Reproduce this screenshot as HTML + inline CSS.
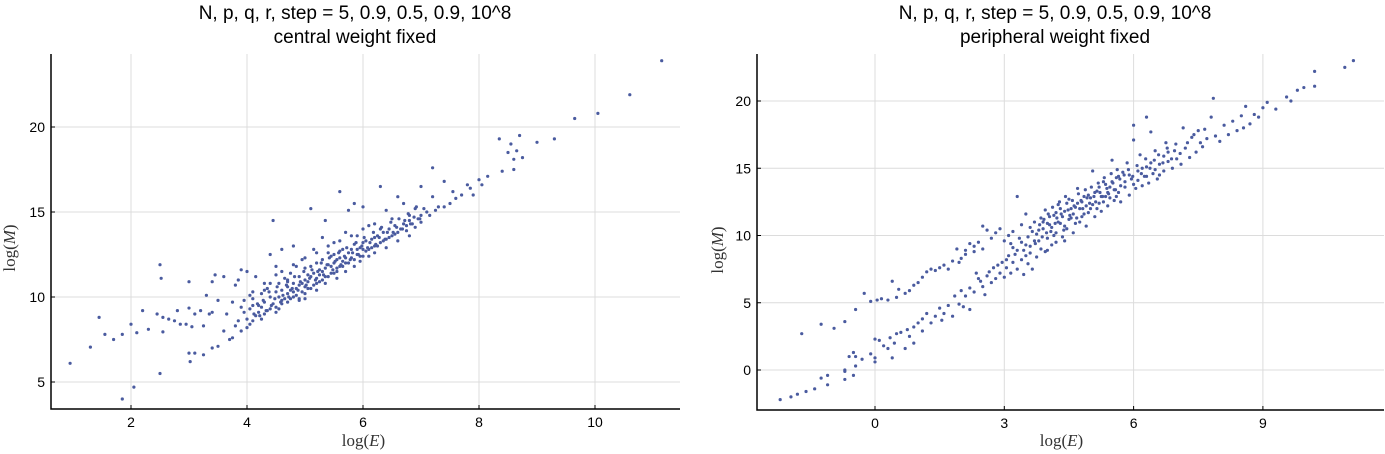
<!DOCTYPE html>
<html><head><meta charset="utf-8"><style>
body{margin:0;background:#fff;width:1385px;height:454px;overflow:hidden}
svg{display:block}
.t{font-family:"Liberation Sans",sans-serif;font-size:19px;fill:#000}
.tk{font-family:"Liberation Sans",sans-serif;font-size:14px;fill:#000}
.al{font-family:"Liberation Serif",serif;font-size:17px;fill:#333}
</style></head><body>
<svg id="chart" width="1385" height="454" xmlns="http://www.w3.org/2000/svg">
<g id="p1"></g>
<g id="p2"></g>
</svg>
<script>
const leftTitle1 = "N, p, q, r, step = 5, 0.9, 0.5, 0.9, 10^8";
const leftTitle2 = "central weight fixed";
const rightTitle2 = "peripheral weight fixed";
const leftXTicks = [2,4,6,8,10];
const leftYTicks = [5,10,15,20];
const rightXTicks = [0,3,6,9];
const rightYTicks = [0,5,10,15,20];
const leftX = [0.95,1.3,1.45,1.55,1.7,1.85,1.85,2.0,2.05,2.1,2.2,2.3,2.45,2.5,2.52,2.5,2.55,2.55,2.65,2.75,2.8,2.85,2.95,3.0,3.0,3.0,3.02,3.05,3.1,3.1,3.2,3.25,3.25,3.3,3.35,3.4,3.4,3.45,3.4,3.5,3.5,3.6,3.6,3.65,3.7,3.75,3.75,3.8,3.8,3.85,3.9,3.9,3.95,4.0,4.0,4.05,4.1,4.15,4.2,4.25,4.3,4.35,4.4,4.45,4.5,4.5,4.55,4.6,4.6,4.7,4.7,4.75,4.8,4.8,4.85,4.9,4.95,5.0,5.0,5.05,5.1,5.1,5.15,5.2,5.25,5.3,5.3,5.35,5.4,5.45,5.5,5.5,5.55,5.6,5.6,5.65,5.7,5.7,5.75,5.8,5.85,5.9,5.9,5.95,6.0,6.0,6.05,6.1,6.15,6.2,6.25,6.3,6.3,6.35,6.4,6.45,6.5,6.55,6.6,6.65,6.7,6.75,6.8,6.85,6.9,6.95,7.0,7.0,7.1,7.2,7.2,7.3,7.4,7.5,7.55,7.6,7.7,7.8,7.85,7.9,8.0,8.05,8.15,8.35,8.4,8.5,8.55,8.6,8.65,8.7,8.75,8.6,9.0,9.3,9.65,10.05,10.6,11.15,
4.0,4.05,4.1,4.15,4.2,4.25,4.3,4.3,4.35,4.4,4.4,4.45,4.5,4.5,4.55,4.6,4.6,4.65,4.65,4.7,4.7,4.75,4.75,4.8,4.8,4.85,4.85,4.9,4.9,4.95,4.95,5.0,5.0,5.05,5.05,5.1,5.1,5.15,5.15,5.2,5.2,5.25,5.25,5.3,5.3,5.35,5.35,5.4,5.4,5.45,5.45,5.5,5.5,5.55,5.55,5.6,5.6,5.65,5.65,5.7,5.75,5.75,5.8,5.85,5.85,5.9,5.95,6.0,6.0,6.05,6.1,6.15,6.2,6.25,6.3,6.35,6.4,6.45,6.5,6.55,6.6,6.7,6.75,6.8,6.9,7.0,7.05,7.15,7.25,7.4,3.95,4.1,4.25,4.55,4.9,5.0,4.7,5.2,5.35,5.55,5.7,5.85,5.95,6.1,6.2,6.4,6.6,6.8,
4.12,4.18,4.22,4.28,4.33,4.38,4.42,4.48,4.52,4.58,4.62,4.68,4.72,4.78,4.82,4.88,4.92,4.98,5.02,5.08,5.12,5.18,5.22,5.28,5.32,5.38,5.42,5.48,5.52,5.58,5.62,5.68,5.72,5.78,5.82,5.88,5.92,5.98,6.02,6.08,6.12,6.18,6.22,6.28,6.32,6.38,6.42,6.48,6.52,6.58,6.62,6.68,6.72,6.78,6.82,6.88,6.92,6.98,4.6,4.8,5.0,5.2,5.4,4.4,4.5,5.6,5.8,6.0,6.2,4.3,4.1,3.9,3.85,4.05];
const leftY = [6.1,7.05,8.8,7.8,7.5,7.8,4.0,8.4,4.7,7.9,9.2,8.1,9.0,11.9,11.1,5.5,8.8,7.95,8.7,8.6,9.2,8.4,8.4,10.9,9.35,6.7,6.2,8.25,6.7,9.0,9.2,8.3,6.6,10.1,9.0,10.9,9.1,11.3,7.0,7.1,9.8,8.0,11.2,9.0,7.5,9.7,7.6,10.7,8.3,11.0,11.6,8.0,9.8,11.5,8.2,10.1,8.6,11.2,9.5,8.7,10.8,9.2,12.5,14.5,11.3,9.1,10.0,12.8,9.6,11.0,9.7,10.4,13.0,10.0,11.8,9.9,12.2,10.6,10.2,11.3,15.2,10.5,12.8,10.8,11.6,13.5,11.0,14.5,11.2,12.4,11.4,13.2,11.7,16.2,12.7,11.8,13.8,12.0,15.1,12.3,15.5,12.5,13.6,12.4,13.2,15.3,12.7,14.2,12.9,13.5,13.0,16.5,14.0,13.3,15.1,13.5,14.6,13.7,15.9,14.0,15.5,14.2,14.8,14.3,15.2,14.6,16.5,14.8,15.0,17.6,15.9,15.3,16.8,15.5,16.2,15.8,16.0,16.6,16.4,16.0,16.9,16.6,17.1,19.3,17.4,18.5,19.0,18.1,18.6,19.5,18.2,17.5,19.1,19.3,20.5,20.8,21.9,23.9,
8.7,9.3,9.9,8.9,9.1,10.2,9.0,9.7,10.5,9.3,10.0,9.6,10.3,9.4,10.8,9.8,10.4,9.9,11.1,10.2,10.6,9.9,11.4,10.3,10.8,10.1,10.5,10.7,11.2,10.3,10.8,11.0,11.7,10.5,10.9,11.2,11.8,10.7,11.4,11.1,12.0,10.9,11.3,11.5,12.2,11.2,11.7,11.9,12.6,11.4,11.8,12.0,12.5,11.5,12.2,11.8,12.3,12.1,12.8,12.3,12.0,12.6,12.8,12.2,13.1,12.8,12.9,12.4,12.8,13.3,12.8,13.4,13.0,13.6,13.2,13.8,13.4,14.0,13.6,14.2,13.8,14.3,13.9,14.5,14.1,14.4,15.2,14.8,15.1,15.3,9.1,9.5,9.4,9.3,9.8,9.9,10.9,10.4,10.8,11.1,11.5,11.8,12.1,12.4,12.6,12.9,13.3,13.6,
9.0,9.6,8.9,9.8,9.2,10.3,9.5,9.9,10.6,9.7,10.1,10.7,10.0,10.5,11.2,10.4,10.9,11.5,10.7,11.1,11.6,11.0,11.5,12.0,11.3,11.9,12.3,11.6,12.1,12.6,11.9,12.4,12.9,12.2,12.6,13.2,12.5,13.0,13.5,12.9,13.2,13.8,13.1,13.5,14.1,13.4,13.8,14.4,13.8,14.1,14.6,14.0,14.5,14.9,14.3,14.7,15.3,14.6,11.5,11.9,12.3,12.6,13.0,10.8,11.8,13.3,13.6,14.0,14.3,10.4,10.3,9.4,8.6,8.4];
const rightX = [-2.2,-1.95,-1.8,-1.6,-1.4,-1.1,-1.1,-1.25,-0.7,-0.7,-0.7,-0.5,-0.45,-0.45,-0.6,-0.5,-0.3,-0.1,0,0,0,-1.7,-1.25,-0.95,-0.7,-0.45,-0.25,-0.1,0.05,0.15,0.3,0.4,0.5,0.55,0.7,0.8,0.9,1.0,1.1,1.2,1.3,1.4,1.5,1.6,1.7,1.8,1.9,2.0,2.1,2.2,2.3,2.4,2.5,2.5,2.6,2.7,2.8,2.9,3.0,3.1,3.2,3.3,3.4,3.5,
0.1,0.2,0.3,0.35,0.4,0.45,0.5,0.6,0.7,0.75,0.8,0.9,0.9,1.0,1.1,1.1,1.2,1.3,1.4,1.5,1.55,1.6,1.7,1.8,1.85,1.95,2.0,2.05,2.1,2.2,2.2,2.3,2.4,2.5,2.55,2.6,2.7,2.75,2.8,2.9,2.95,3.0,3.05,3.1,3.15,3.2,3.3,3.3,3.4,3.45,3.5,3.55,3.6,3.65,3.7,3.75,3.8,3.85,3.9,3.95,4.0,4.05,4.1,4.15,4.2,4.25,4.3,4.35,4.4,4.45,4.5,4.55,4.6,4.65,4.7,4.75,4.8,4.85,4.9,4.95,5.0,5.05,5.1,5.15,5.2,5.25,5.3,5.35,5.4,5.45,5.5,5.55,5.6,5.65,5.7,5.75,5.8,5.85,5.9,5.95,6.0,6.0,6.05,6.1,6.15,6.2,6.25,6.3,6.3,6.35,6.4,6.45,6.5,6.55,6.6,6.7,6.75,6.8,6.9,6.95,7.0,7.1,7.15,7.2,7.3,7.35,7.45,7.5,7.6,7.7,7.8,7.85,7.9,8.0,8.1,8.2,8.3,8.4,8.5,8.55,8.6,8.7,8.8,8.9,9.0,9.1,9.3,9.55,9.65,9.8,9.95,10.2,10.2,10.9,11.1,
3.6,3.7,3.75,3.85,3.9,3.95,4.0,4.05,4.1,4.15,4.2,4.25,4.3,4.35,4.4,4.45,4.5,4.55,4.6,4.65,4.7,4.75,4.8,4.85,4.9,4.95,5.0,5.05,5.1,5.15,5.2,5.25,5.3,5.35,5.4,5.45,5.5,5.55,5.6,5.65,5.7,5.8,5.9,6.0,6.1,6.2,6.3,6.4,6.5,6.6,6.7,6.8,3.2,3.4,3.6,3.8,4.0,3.5,4.2,4.4,
3.55,3.65,3.72,3.82,3.88,3.92,3.98,4.02,4.08,4.12,4.18,4.22,4.28,4.32,4.38,4.42,4.48,4.52,4.58,4.62,4.68,4.72,4.78,4.82,4.88,4.92,4.98,5.02,5.08,5.12,5.18,5.22,5.28,5.32,5.38,5.42,5.48,5.52,5.58,5.62,5.68,5.78,5.88,5.98,6.08,6.18,6.28,6.38,6.48,6.58,6.68,6.78,6.88,6.98,7.08,7.25,7.4,7.55,7.65,2.65,2.85,3.05,3.25,3.45,2.45,2.35,3.15,3.35,2.1,1.95,2.3];
const rightY = [-2.2,-2.0,-1.8,-1.6,-1.4,-1.1,-0.4,-0.6,-0.7,0.0,-0.1,-0.4,0.3,1.0,1.0,1.3,0.8,1.2,0.9,0.6,2.3,2.7,3.4,3.1,3.6,4.5,5.7,5.1,5.2,5.3,5.2,6.6,5.4,6.0,5.7,5.9,6.3,6.5,6.9,7.3,7.5,7.4,7.6,7.8,7.5,8.1,9.0,8.3,8.9,9.4,8.8,9.5,9.0,10.7,10.4,9.8,10.2,10.5,9.6,10.0,10.3,12.9,10.8,11.6,
2.2,1.8,1.6,2.4,0.9,2.0,2.7,2.8,1.6,3.0,2.5,3.2,2.0,3.5,2.9,3.8,4.2,3.5,4.0,4.6,3.7,4.2,4.8,4.0,5.5,4.9,5.9,4.7,5.5,6.1,4.5,5.8,6.8,6.2,5.6,7.0,6.5,7.6,6.8,7.2,8.0,6.9,7.6,8.5,7.2,8.0,7.5,8.9,8.2,7.1,9.3,7.9,8.7,7.5,9.6,8.4,10.4,9.0,11.0,8.8,9.8,10.8,9.3,11.5,10.2,12.3,10.9,9.9,11.8,10.5,12.7,11.3,10.2,12.1,13.5,11.0,12.5,11.6,10.7,13.0,12.0,14.8,11.4,13.3,12.4,11.8,14.0,12.9,12.2,13.6,15.6,12.6,14.3,13.2,12.5,14.7,13.6,15.4,13.0,14.2,18.2,17.1,13.5,14.8,16.0,13.7,14.4,18.8,15.1,13.9,17.7,14.6,16.3,14.2,15.3,14.8,16.9,15.5,15.0,16.3,15.7,15.3,18.0,16.5,15.8,17.3,16.2,17.8,16.6,17.2,18.8,20.2,17.4,17.0,18.2,17.5,18.5,17.8,18.9,18.0,19.6,18.3,19.0,18.8,19.5,19.9,19.4,20.3,20.0,20.8,21.0,21.1,22.2,22.5,23.0,
10.6,11.0,10.1,11.3,10.5,11.9,10.9,11.4,10.6,10.0,11.7,11.0,12.0,11.4,10.7,12.4,11.2,12.0,11.6,10.9,12.4,12.0,11.4,12.9,12.2,11.7,12.8,12.3,13.2,12.0,13.6,12.9,12.5,13.8,13.2,12.8,14.0,13.4,12.9,14.4,13.7,14.0,14.5,13.8,14.1,15.0,14.4,15.4,14.9,14.5,15.9,16.2,9.1,9.5,9.2,9.6,8.9,8.5,9.5,9.6,
9.9,10.3,9.4,10.8,9.9,11.2,10.2,11.6,10.3,12.1,10.9,11.3,12.5,11.6,10.4,12.9,11.9,11.5,12.6,12.2,11.3,13.1,12.6,12.0,13.4,12.8,12.4,13.6,12.9,12.5,13.9,13.2,12.9,14.3,13.5,13.1,14.6,13.9,13.4,14.9,14.2,14.5,14.9,14.4,15.2,14.6,15.7,15.0,15.6,16.0,15.4,16.5,15.7,16.8,16.1,16.9,17.5,16.9,17.9,7.3,7.8,8.2,8.6,8.9,6.6,7.2,9.4,9.8,8.6,8.0,9.2];

const NS="http://www.w3.org/2000/svg";
function mk(parent, tag, attrs, text){
  const e=document.createElementNS(NS,tag);
  for(const k in attrs) e.setAttribute(k,attrs[k]);
  if(text!==undefined) e.textContent=text;
  parent.appendChild(e); return e;
}
function panel(g, cfg, xs, ys, xt, yt, t1, t2){
  const sx=v=>cfg.x0+v*cfg.kx, sy=v=>cfg.y0-v*cfg.ky;
  xt.forEach(v=>{
    const l=mk(g,'line',{x1:sx(v),x2:sx(v),y1:cfg.top,y2:cfg.bottom,stroke:'#dcdcdc','stroke-width':1});
    
    
    const t=mk(g,'text',{x:sx(v),y:cfg.bottom+18,'text-anchor':'middle',class:'tk'},String(v));
    
    
    mk(g,'line',{x1:sx(v),x2:sx(v),y1:cfg.bottom,y2:cfg.bottom-4,stroke:'#000'});
  });
  yt.forEach(v=>{
    const l=mk(g,'line',{x1:cfg.left,x2:cfg.right,y1:sy(v),y2:sy(v),stroke:'#dcdcdc','stroke-width':1});
    
    
    const t=mk(g,'text',{x:cfg.left-6,y:sy(v)+5,'text-anchor':'end',class:'tk'},String(v));
    
    
    mk(g,'line',{x1:cfg.left,x2:cfg.left+4,y1:sy(v),y2:sy(v),stroke:'#000'});
  });
  const ax=mk(g,'path',{d:`M${cfg.left},${cfg.top} V${cfg.bottom} H${cfg.right}`,fill:'none',stroke:'#000','stroke-width':1.5});
  
  
  for(let i=0;i<xs.length;i++){
    const c=mk(g,'circle',{cx:sx(xs[i]),cy:sy(ys[i]),r:1.6,fill:'#4a5b9f'});
    
    
  }
  const cx=cfg.tx;
  const a=mk(g,'text',{x:cx,y:19,'text-anchor':'middle',class:'t'},t1);
  
  
  const b=mk(g,'text',{x:cx,y:43,'text-anchor':'middle',class:'t'},t2);
  
  
  const xl=mk(g,'text',{x:(cfg.left+cfg.right)/2+(cfg.xlo||0),y:446,'text-anchor':'middle',class:'al'});
  xl.innerHTML='log(<tspan font-style="italic">E</tspan>)';
  
  
  const yl=mk(g,'text',{x:0,y:0,'text-anchor':'middle',class:'al',transform:`translate(${cfg.ylx},${cfg.yly}) rotate(-90)`});
  yl.innerHTML='log(<tspan font-style="italic">M</tspan>)';
  
  
}
panel(document.getElementById('p1'),{x0:15,kx:58,y0:467,ky:17,left:51,right:680,top:54,bottom:409,tx:355,ylx:15,yly:248,xlo:-2},leftX,leftY,leftXTicks,leftYTicks,leftTitle1,leftTitle2);
panel(document.getElementById('p2'),{x0:875,kx:43.1,y0:370,ky:13.45,left:757,right:1384,top:54,bottom:410,tx:1055,ylx:723,yly:250,xlo:-9},rightX,rightY,rightXTicks,rightYTicks,leftTitle1,rightTitle2);
</script>
</body></html>
